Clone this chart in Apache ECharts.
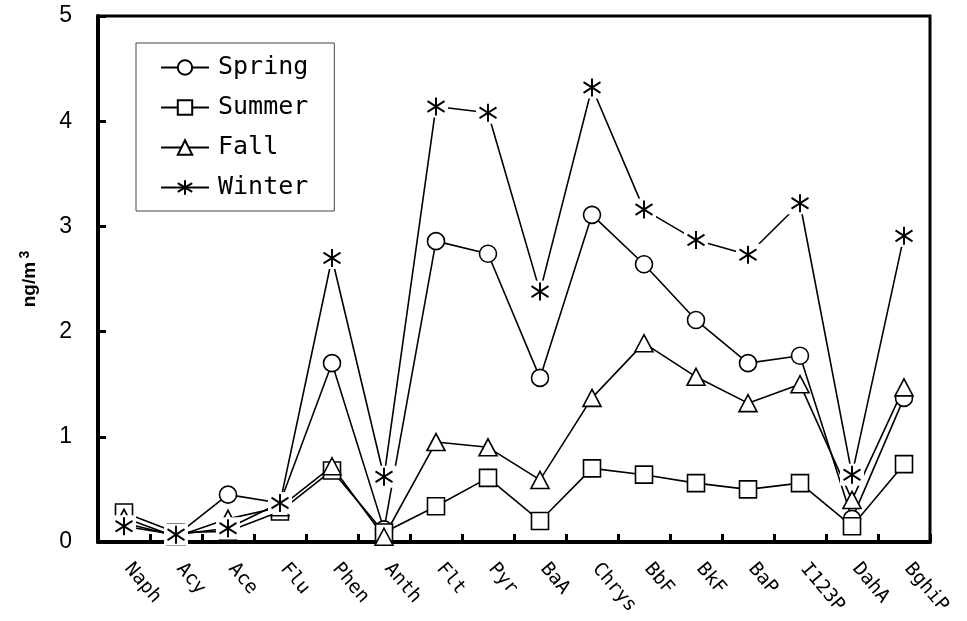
<!DOCTYPE html>
<html>
<head>
<meta charset="utf-8">
<script src="https://cdn.jsdelivr.net/npm/echarts@6.0.0/dist/echarts.min.js"></script>
<style>
  html, body { margin: 0; padding: 0; background: #fff; }
  #chart { width: 967px; height: 621px; }
</style>
</head>
<body>
<div id="chart"></div>
<script>
// PAH compounds on the x axis
const compounds = ['Naph', 'Acy', 'Ace', 'Flu', 'Phen', 'Anth', 'Flt', 'Pyr', 'BaA', 'Chrys', 'BbF', 'BkF', 'BaP', 'I123P', 'DahA', 'BghiP'];

// Seasonal mean concentrations (ng/m3)
const spring = [0.18, 0.06, 0.45, 0.37, 1.70, 0.12, 2.86, 2.74, 1.56, 3.11, 2.64, 2.11, 1.70, 1.77, 0.22, 1.37];
const summer = [0.28, 0.09, 0.10, 0.29, 0.68, 0.09, 0.34, 0.61, 0.20, 0.70, 0.64, 0.56, 0.50, 0.56, 0.15, 0.74];
const fall   = [0.23, 0.05, 0.22, 0.33, 0.72, 0.05, 0.95, 0.90, 0.59, 1.37, 1.89, 1.57, 1.32, 1.50, 0.40, 1.47];
const winter = [0.15, 0.07, 0.13, 0.37, 2.70, 0.62, 4.14, 4.08, 2.38, 4.32, 3.16, 2.87, 2.73, 3.22, 0.64, 2.91];

// y axis ticks
const yTicks = { min: 0, max: 5, step: 1 };

// asterisk marker: vertical stroke plus an X
const starPath = 'path://M10 0 L10 20 M1 4 L19 16 M1 16 L19 4';

const lineFont = 'Liberation Sans';
const monoFont = 'DejaVu Sans Mono';

function seasonSeries(name, data, symbol, size) {
  return {
    type: 'line',
    name: name,
    data: data,
    symbol: symbol,
    symbolSize: size,
    showAllSymbol: true,
    z: 2,
    lineStyle: { color: '#000', width: 1.6 },
    itemStyle: { color: '#fff', borderColor: '#000', borderWidth: 1.6 },
    emphasis: { disabled: true }
  };
}

// marker-only overlay (no visible connecting line)
function markerLayer(name, data, symbol, size, z, itemStyle) {
  return {
    type: 'line',
    name: name,
    data: data,
    symbol: symbol,
    symbolSize: size,
    showAllSymbol: true,
    z: z,
    silent: true,
    lineStyle: { opacity: 0, width: 0 },
    itemStyle: itemStyle,
    emphasis: { disabled: true }
  };
}

const chart = echarts.init(document.getElementById('chart'), null, { renderer: 'canvas' });

chart.setOption({
  animation: false,
  backgroundColor: '#fff',
  grid: {
    left: 98, right: 37, top: 16, bottom: 79,
    show: true, borderColor: '#000', borderWidth: 3, backgroundColor: 'transparent'
  },
  legend: {
    data: ['Spring', 'Summer', 'Fall', 'Winter'],
    orient: 'vertical',
    left: 136, top: 43,
    padding: [12, 26, 11, 24],
    itemWidth: 48, itemHeight: 18, itemGap: 15,
    backgroundColor: '#fff',
    borderColor: '#444', borderWidth: 1,
    selectedMode: false,
    textStyle: { fontFamily: monoFont, fontSize: 25, color: '#000', padding: [0, 0, 0, 4] }
  },
  xAxis: {
    type: 'category',
    data: compounds,
    boundaryGap: true,
    axisLine: { lineStyle: { color: '#000', width: 4 } },
    axisTick: { show: true, inside: true, length: 8, interval: 0, lineStyle: { color: '#000', width: 3 } },
    axisLabel: {
      interval: 0, rotate: -50, margin: 19,
      padding: [0, 0, 0, 6],
      fontFamily: monoFont, fontSize: 19, color: '#000'
    },
    splitLine: { show: false }
  },
  yAxis: {
    type: 'value',
    min: yTicks.min, max: yTicks.max, interval: yTicks.step,
    name: '{a|ng/m} {b|3}',
    nameLocation: 'middle',
    nameRotate: 90,
    nameGap: 56,
    nameTextStyle: {
      rich: {
        a: { fontFamily: lineFont, fontSize: 19, fontWeight: 'bold', color: '#000' },
        b: { fontFamily: lineFont, fontSize: 14, fontWeight: 'bold', color: '#000', padding: [0, 0, 10, 0] }
      }
    },
    axisLine: { show: true, lineStyle: { color: '#000', width: 4 } },
    axisTick: { show: true, inside: true, length: 8, lineStyle: { color: '#000', width: 3 } },
    axisLabel: { margin: 26, fontFamily: lineFont, fontSize: 23, color: '#000' },
    splitLine: { show: false }
  },
  series: [
    seasonSeries('Spring', spring, 'circle', 17),
    seasonSeries('Summer', summer, 'rect', 17),
    seasonSeries('Fall', fall, 'triangle', [18, 17]),
    Object.assign(seasonSeries('Winter', winter, starPath, [17, 18]), {
      itemStyle: { color: '#000', borderColor: '#000', borderWidth: 2 }
    }),
    // white clearing behind each winter marker
    markerLayer('winter-bg', winter, 'rect', [24, 22], 3, { color: '#fff', borderWidth: 0 }),
    markerLayer('winter-mark', winter, starPath, [17, 18], 4, { color: '#000', borderColor: '#000', borderWidth: 2 })
  ]
});
</script>
</body>
</html>
